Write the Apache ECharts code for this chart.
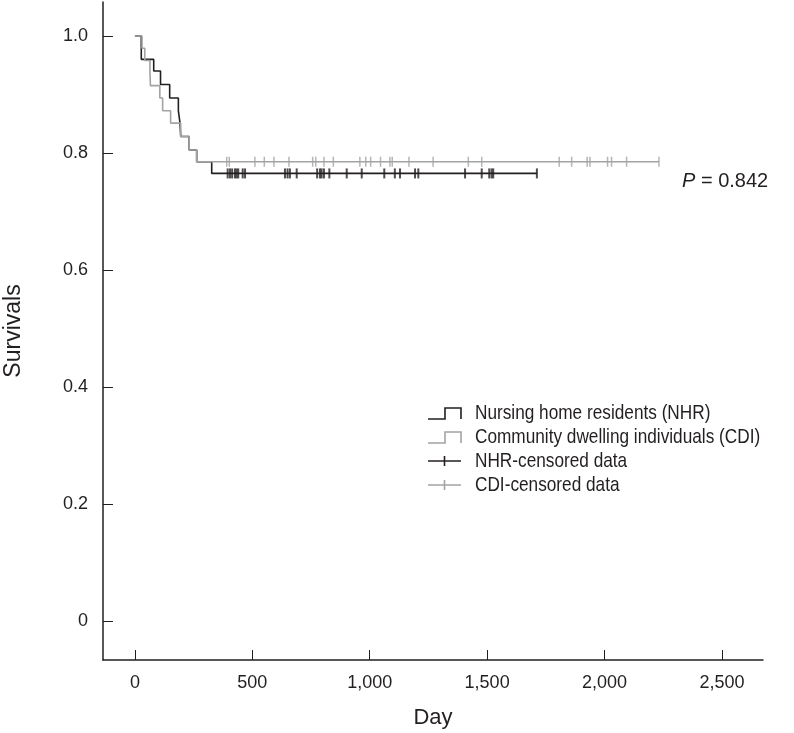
<!DOCTYPE html>
<html>
<head>
<meta charset="utf-8">
<script src="https://cdn.jsdelivr.net/npm/echarts@6/dist/echarts.min.js"></script>
<style>
html, body { margin: 0; padding: 0; background: #fff; }
#main { width: 794px; height: 733px; }
</style>
</head>
<body>
<div id="main"></div>
<script>
// Kaplan-Meier steps
var nhrDays = [0, 27, 80, 109, 148, 185, 192, 195, 231, 263, 327];
var nhrSurv = [1, 0.960, 0.940, 0.917, 0.894, 0.872, 0.851, 0.828, 0.805, 0.785, 0.765];
var nhrEnd = 1712;
var cdiDays = [0, 30, 42, 64, 66, 106, 118, 152, 195, 231, 263];
var cdiSurv = [1, 0.979, 0.958, 0.937, 0.915, 0.894, 0.872, 0.851, 0.828, 0.805, 0.785];
var cdiEnd = 2232;

// censored observations (days)
var nhrCensor = [395, 405, 414, 426, 433, 440, 459, 469, 639, 650, 660, 689, 776, 788, 795, 805, 828,
  902, 966, 1062, 1107, 1129, 1193, 1207, 1406, 1477, 1509, 1519, 1526, 1712];
var cdiCensor = [391, 402, 511, 551, 592, 656, 757, 770, 805, 845, 958, 983, 1004, 1046, 1086, 1096,
  1167, 1270, 1420, 1477, 1807, 1860, 1926, 1938, 2013, 2030, 2094, 2232];

var xTicks = [0, 500, 1000, 1500, 2000, 2500];
var yTicks = [0, 0.2, 0.4, 0.6, 0.8, 1.0];
var legendNames = ['Nursing home residents (NHR)', 'Community dwelling individuals (CDI)',
  'NHR-censored data', 'CDI-censored data'];

var DARK = '#231f20';
var GRAY = '#a3a3a3';
var FONT = '"Liberation Sans", Arial, sans-serif';

function curve(days, surv, end) {
  var pts = [];
  for (var i = 0; i < days.length; i++) pts.push([days[i], surv[i]]);
  pts.push([end, surv[surv.length - 1]]);
  return pts;
}
function survAt(days, surv, d) {
  var s = surv[0];
  for (var i = 0; i < days.length; i++) if (days[i] <= d) s = surv[i];
  return s;
}
function censorPts(cens, days, surv) {
  return cens.map(function (d) { return [d, survAt(days, surv, d)]; });
}

var myChart = echarts.init(document.getElementById('main'));

// hand-drawn legend (step icons / cross icons), text squeezed to look condensed
var legendG = [];
var rowY = [413, 437, 461, 485];
legendNames.forEach(function (n, i) {
  var c = (i % 2 === 0) ? DARK : GRAY;
  var y = rowY[i];
  if (i < 2) {
    legendG.push({
      type: 'polyline', silent: true,
      shape: { points: [[428, y + 6], [445, y + 6], [445, y - 5], [461, y - 5], [461, y + 6]] },
      style: { stroke: c, lineWidth: 1.6, fill: null }
    });
  } else {
    legendG.push({ type: 'line', silent: true, shape: { x1: 428, y1: y, x2: 461, y2: y },
      style: { stroke: c, lineWidth: 1.6 } });
    legendG.push({ type: 'line', silent: true, shape: { x1: 444.5, y1: y - 5, x2: 444.5, y2: y + 5 },
      style: { stroke: c, lineWidth: 1.6 } });
  }
  legendG.push({
    type: 'text', silent: true, x: 475, y: y, scaleX: 0.82,
    style: { text: n, fill: DARK, font: '21px ' + FONT, textVerticalAlign: 'middle' }
  });
});
legendG.push({
  type: 'text', silent: true, x: 682, y: 181,
  style: {
    text: '{i|P} = 0.842', fill: DARK, textVerticalAlign: 'middle',
    font: '20px ' + FONT,
    rich: { i: { fontStyle: 'italic', fontSize: 20, fontFamily: FONT, fill: DARK } }
  }
});

var option = {
  animation: false,
  backgroundColor: '#fff',
  grid: { left: 103, right: 31, top: 2, bottom: 73, containLabel: false, outerBoundsMode: 'none' },
  xAxis: {
    type: 'value', min: -136, max: 2675,
    name: 'Day', nameLocation: 'middle', nameGap: 47,
    nameTextStyle: { color: DARK, fontSize: 22, fontFamily: FONT },
    axisLine: { onZero: false, lineStyle: { color: DARK, width: 1.5 } },
    axisTick: { inside: true, length: 10, customValues: xTicks, lineStyle: { color: DARK, width: 1 } },
    axisLabel: {
      customValues: xTicks, margin: 14, color: DARK, fontSize: 18, fontFamily: FONT,
      formatter: function (v) { return v.toLocaleString('en-US'); }
    },
    splitLine: { show: false }
  },
  yAxis: {
    type: 'value', min: -0.0667, max: 1.058,
    name: 'Survivals', nameLocation: 'middle', nameGap: 78,
    nameTextStyle: { color: DARK, fontSize: 23, fontFamily: FONT },
    axisLine: { onZero: false, lineStyle: { color: DARK, width: 1.5 } },
    axisTick: { inside: true, length: 10, customValues: yTicks, lineStyle: { color: DARK, width: 1 } },
    axisLabel: {
      customValues: yTicks, margin: 15, color: DARK, fontSize: 18, fontFamily: FONT,
      formatter: function (v) { return v === 0 ? '0' : v.toFixed(1); }
    },
    splitLine: { show: false }
  },
  series: [
    {
      name: legendNames[0], type: 'line', step: 'end', symbol: 'none', z: 2,
      lineStyle: { color: DARK, width: 1.6 },
      data: curve(nhrDays, nhrSurv, nhrEnd)
    },
    {
      name: legendNames[1], type: 'line', step: 'end', symbol: 'none', z: 3,
      lineStyle: { color: GRAY, width: 1.6 },
      data: curve(cdiDays, cdiSurv, cdiEnd)
    },
    {
      name: legendNames[2], type: 'scatter', symbol: 'rect', symbolSize: [2, 10], z: 4,
      itemStyle: { color: DARK },
      data: censorPts(nhrCensor, nhrDays, nhrSurv)
    },
    {
      name: legendNames[3], type: 'scatter', symbol: 'rect', symbolSize: [1.5, 10], z: 4,
      itemStyle: { color: GRAY },
      data: censorPts(cdiCensor, cdiDays, cdiSurv)
    }
  ],
  graphic: legendG
};
myChart.setOption(option);
</script>
</body>
</html>
